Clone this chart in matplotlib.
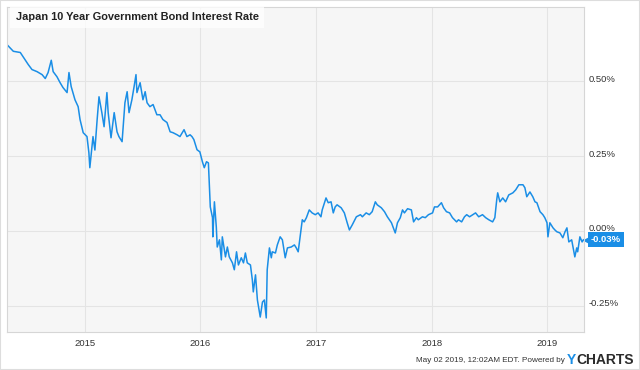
import matplotlib
matplotlib.use("Agg")
import matplotlib.pyplot as plt
import matplotlib.dates as mdates
import matplotlib.transforms as mtransforms
import pandas as pd

# weekly-ish readings of the 10y JGB yield, in percent
dates = [
    "2014-05-01", "2014-05-19", "2014-06-10", "2014-06-25", "2014-07-05", "2014-07-17",
    "2014-08-02", "2014-08-18", "2014-08-28", "2014-09-06", "2014-09-16", "2014-09-22",
    "2014-10-04", "2014-10-14", "2014-10-23", "2014-11-05", "2014-11-11", "2014-11-18",
    "2014-11-30", "2014-12-10", "2014-12-16", "2014-12-26",
    "2015-01-07", "2015-01-13", "2015-01-16", "2015-01-26", "2015-02-01", "2015-02-08",
    "2015-02-14", "2015-02-23", "2015-03-02", "2015-03-11", "2015-03-15", "2015-03-24",
    "2015-03-30", "2015-04-03", "2015-04-12", "2015-04-18", "2015-04-28", "2015-05-07",
    "2015-05-14", "2015-05-20", "2015-05-29", "2015-06-05", "2015-06-11", "2015-06-14",
    "2015-06-24", "2015-07-03", "2015-07-10", "2015-07-16", "2015-07-25", "2015-08-04",
    "2015-08-16", "2015-08-26", "2015-09-04", "2015-09-17", "2015-09-27", "2015-10-06",
    "2015-10-19", "2015-10-28", "2015-11-10", "2015-11-19", "2015-11-29", "2015-12-05",
    "2015-12-11", "2015-12-21", "2015-12-30",
    "2016-01-07", "2016-01-13", "2016-01-20", "2016-01-26", "2016-02-01", "2016-02-08",
    "2016-02-09", "2016-02-14", "2016-02-20", "2016-02-23", "2016-03-01", "2016-03-07",
    "2016-03-10", "2016-03-20", "2016-03-26", "2016-04-01", "2016-04-11", "2016-04-17",
    "2016-04-24", "2016-04-30", "2016-05-09", "2016-05-16", "2016-05-22", "2016-05-28",
    "2016-06-07", "2016-06-13", "2016-06-16", "2016-06-23", "2016-06-29", "2016-07-08",
    "2016-07-15", "2016-07-21", "2016-07-27", "2016-07-30", "2016-08-06", "2016-08-12",
    "2016-08-15", "2016-08-25", "2016-08-31", "2016-09-09", "2016-09-16", "2016-09-25",
    "2016-10-02", "2016-10-14", "2016-10-24", "2016-10-30", "2016-11-05", "2016-11-12",
    "2016-11-18", "2016-11-24", "2016-12-01", "2016-12-10", "2016-12-19", "2016-12-29",
    "2017-01-07", "2017-01-16", "2017-01-20", "2017-02-01", "2017-02-08", "2017-02-17",
    "2017-02-24", "2017-03-02", "2017-03-08", "2017-03-21", "2017-03-31", "2017-04-09",
    "2017-04-16", "2017-04-25", "2017-05-08", "2017-05-21", "2017-05-27", "2017-06-08",
    "2017-06-18", "2017-06-27", "2017-07-07", "2017-07-13", "2017-07-26", "2017-08-05",
    "2017-08-14", "2017-08-27", "2017-09-02", "2017-09-08", "2017-09-15", "2017-09-24",
    "2017-10-01", "2017-10-07", "2017-10-17", "2017-10-29", "2017-11-05", "2017-11-14",
    "2017-11-20", "2017-12-03", "2017-12-12", "2017-12-22",
    "2018-01-04", "2018-01-10", "2018-01-20", "2018-02-01", "2018-02-08", "2018-02-17",
    "2018-02-27", "2018-03-08", "2018-03-21", "2018-03-27", "2018-04-06", "2018-04-15",
    "2018-04-22", "2018-05-01", "2018-05-11", "2018-05-20", "2018-05-30", "2018-06-11",
    "2018-06-21", "2018-07-01", "2018-07-13", "2018-07-20", "2018-07-26", "2018-07-29",
    "2018-08-05", "2018-08-14", "2018-08-23", "2018-09-02", "2018-09-15", "2018-09-24",
    "2018-10-04", "2018-10-17", "2018-10-23", "2018-10-29", "2018-11-08", "2018-11-17",
    "2018-11-24", "2018-11-30", "2018-12-10", "2018-12-19", "2018-12-25",
    "2019-01-01", "2019-01-04", "2019-01-10", "2019-01-20", "2019-01-26", "2019-02-01",
    "2019-02-11", "2019-02-20", "2019-02-27", "2019-03-05", "2019-03-11", "2019-03-20",
    "2019-03-27", "2019-03-30", "2019-04-05", "2019-04-08", "2019-04-15", "2019-04-22",
    "2019-04-26",
]
rates = [
    0.620, 0.600, 0.596, 0.572, 0.556, 0.539,
    0.532, 0.522, 0.509, 0.529, 0.570, 0.532,
    0.515, 0.495, 0.479, 0.462, 0.529, 0.482,
    0.438, 0.415, 0.372, 0.328,
    0.315, 0.261, 0.211, 0.315, 0.270, 0.370,
    0.448, 0.395, 0.348, 0.462, 0.395, 0.311,
    0.360, 0.395, 0.331, 0.315, 0.298, 0.428,
    0.465, 0.395, 0.438, 0.482, 0.522, 0.462,
    0.495, 0.438, 0.465, 0.428, 0.415, 0.422,
    0.388, 0.388, 0.372, 0.362, 0.331, 0.328,
    0.321, 0.315, 0.338, 0.315, 0.321, 0.315,
    0.305, 0.271, 0.264,
    0.231, 0.211, 0.231, 0.227, 0.080, 0.044,
    -0.020, 0.097, 0.013, -0.054, -0.030, -0.097,
    -0.020, -0.087, -0.054, -0.087, -0.107, -0.130,
    -0.070, -0.114, -0.090, -0.107, -0.074, -0.107,
    -0.114, -0.164, -0.204, -0.147, -0.231, -0.288,
    -0.238, -0.231, -0.291, -0.130, -0.057, -0.090,
    -0.070, -0.074, -0.047, -0.020, -0.030, -0.090,
    -0.057, -0.054, -0.047, -0.057, -0.070, -0.013,
    0.037, 0.030, 0.044, 0.070, 0.060, 0.054,
    0.060, 0.047, 0.070, 0.110, 0.094, 0.097,
    0.060, 0.080, 0.087, 0.077, 0.060, 0.027,
    0.003, 0.020, 0.047, 0.054, 0.047, 0.060,
    0.054, 0.064, 0.097, 0.087, 0.077, 0.064,
    0.047, 0.027, 0.010, -0.007, 0.027, 0.044,
    0.070, 0.060, 0.074, 0.070, 0.030, 0.044,
    0.037, 0.047, 0.044, 0.054,
    0.060, 0.080, 0.080, 0.094, 0.077, 0.064,
    0.060, 0.044, 0.030, 0.037, 0.030, 0.047,
    0.054, 0.047, 0.054, 0.060, 0.047, 0.054,
    0.044, 0.037, 0.030, 0.044, 0.104, 0.127,
    0.097, 0.110, 0.097, 0.120, 0.127, 0.137,
    0.154, 0.154, 0.144, 0.114, 0.130, 0.114,
    0.097, 0.094, 0.064, 0.054, 0.044,
    0.027, -0.020, 0.027, 0.010, 0.003, -0.003,
    -0.007, -0.023, -0.003, 0.010, -0.037, -0.030,
    -0.070, -0.087, -0.057, -0.070, -0.020, -0.037,
    -0.030,
]
ytick_vals = [-0.25, 0.0, 0.25, 0.50]
year_ticks = ["2015", "2016", "2017", "2018", "2019"]

title = "Japan 10 Year Government Bond Interest Rate"
footer = "May 02 2019, 12:02AM EDT. Powered by"
blue = "#1a8ee6"

plt.rcParams["font.family"] = ["Liberation Sans", "DejaVu Sans"]

x = pd.to_datetime(dates)

fig = plt.figure(figsize=(6.4, 3.7), dpi=100)
ax = fig.add_axes([7 / 640, 38 / 370, 577 / 640, 325 / 370])
ax.set_facecolor("#f6f6f6")

ax.plot(x, rates, color=blue, lw=1.1, solid_joinstyle="round")

ax.set_xlim(pd.Timestamp("2014-04-29"), pd.Timestamp("2019-04-28"))
ax.set_ylim(-0.338, 0.748)

ax.set_xticks(pd.to_datetime(year_ticks))
ax.xaxis.set_major_formatter(mdates.DateFormatter("%Y"))
ax.set_yticks(ytick_vals)
ax.set_yticklabels(["%.2f%%" % v for v in ytick_vals])
ax.yaxis.tick_right()
ax.tick_params(axis="both", length=0, labelsize=6.8, colors="#333333")
ax.tick_params(axis="x", pad=5)
ax.tick_params(axis="y", pad=3)
# right labels sit a little above their grid line
for lab in ax.get_yticklabels():
    lab.set_transform(lab.get_transform() + mtransforms.Affine2D().translate(0, 3))
ax.grid(True, color="#e4e4e4", lw=0.8)
ax.set_axisbelow(True)
for s in ax.spines.values():
    s.set_color("#d6d6d6")
    s.set_linewidth(0.8)

# title box in the top left corner of the plot
ax.text(0.015, 0.968, title, transform=ax.transAxes, ha="left", va="center",
        fontsize=7.9, fontweight="bold", color="#222222",
        bbox=dict(facecolor="white", edgecolor="none", alpha=0.75, pad=4))

# last value tag
last = rates[-1]
tr = mtransforms.blended_transform_factory(ax.transAxes, ax.transData)
ax.plot([1.0], [last], marker="<", ms=7, color=blue, mec="none",
        transform=mtransforms.offset_copy(tr, fig=fig, x=3, y=0, units="dots"),
        clip_on=False)
ax.text(1.0, last, "%.2f%%" % last, color="white", fontsize=6.8, fontweight="bold",
        ha="left", va="center",
        transform=mtransforms.offset_copy(tr, fig=fig, x=7, y=0, units="dots"),
        bbox=dict(facecolor=blue, edgecolor="none", pad=2.2))

# footer
fig.text(565 / 640, 1 - 361 / 370, footer, ha="right", va="center",
         fontsize=5.9, color="#333333")
fig.text(567 / 640, 1 - 360 / 370, "Y", ha="left", va="center",
         fontsize=10, fontweight="bold", color=blue)
fig.text(576 / 640, 1 - 360 / 370, "CHARTS", ha="left", va="center",
         fontsize=10, fontweight="bold", color="#2b2b2b")

# thin frame around the whole image
fig.patches.append(plt.Rectangle((0, 0), 1, 1, transform=fig.transFigure,
                                 fill=False, edgecolor="#dddddd", lw=1.5))

fig.savefig("out.png", dpi=100)
